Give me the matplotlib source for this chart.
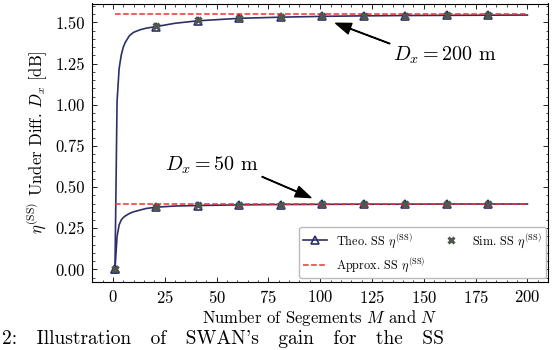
import numpy as np
import matplotlib.pyplot as plt
from matplotlib.ticker import AutoMinorLocator

plt.rcParams['font.family'] = 'serif'
plt.rcParams['font.serif'] = ['cmr10']
plt.rcParams['mathtext.fontset'] = 'cm'
plt.rcParams['axes.formatter.use_mathtext'] = True
plt.rcParams['font.size'] = 12

# theoretical curves
seg_theo = [1, 2, 3, 4, 5, 6, 8, 10, 13, 16, 21, 30, 41, 61, 81, 101, 121, 141, 161, 181, 200]
theo_200 = [0.0, 1.02, 1.22, 1.30, 1.35, 1.38, 1.42, 1.44, 1.455, 1.465, 1.475, 1.495, 1.51,
            1.525, 1.532, 1.537, 1.540, 1.542, 1.543, 1.544, 1.545]
theo_50 = [0.0, 0.20, 0.27, 0.30, 0.315, 0.325, 0.34, 0.35, 0.36, 0.37, 0.378, 0.385, 0.388,
           0.392, 0.394, 0.395, 0.396, 0.396, 0.397, 0.397, 0.397]

# sampled points (markers)
seg_pts = [1, 21, 41, 61, 81, 101, 121, 141, 161, 181]
theo_200_pts = [0.0, 1.475, 1.51, 1.525, 1.532, 1.537, 1.540, 1.542, 1.543, 1.544]
theo_50_pts = [0.0, 0.378, 0.388, 0.392, 0.394, 0.395, 0.396, 0.396, 0.397, 0.397]
sim_200 = [0.0, 1.476, 1.512, 1.527, 1.533, 1.538, 1.541, 1.542, 1.543, 1.544]
sim_50 = [0.0, 0.379, 0.389, 0.392, 0.394, 0.395, 0.396, 0.397, 0.397, 0.397]

# approximation
seg_approx = [1, 200]
approx_200 = [1.55, 1.55]
approx_50 = [0.40, 0.40]

navy = '#2c3068'
gray = '#4f574f'
red = '#f03030'

fig = plt.figure(figsize=(5.52, 3.5), dpi=100)
ax = fig.add_axes([0.167, 0.195, 0.826, 0.795])

for yt, yp, ys, ya in [(theo_200, theo_200_pts, sim_200, approx_200),
                       (theo_50, theo_50_pts, sim_50, approx_50)]:
    ax.plot(seg_theo, yt, color=navy, lw=1.2)
    ax.plot(seg_pts, yp, ls='none', marker='^', ms=6, mfc='none', mec=navy, mew=1.2)
    ax.plot(seg_approx, ya, color=red, ls='--', lw=1.1)
    ax.plot(seg_pts, ys, ls='none', marker='x', ms=5, color=gray, mew=2.2)

h_theo, = ax.plot([], [], color=navy, lw=1.2, marker='^', ms=6, mfc='none', mew=1.2)
h_approx, = ax.plot([], [], color=red, ls='--', lw=1.1)
h_sim, = ax.plot([], [], ls='none', marker='x', ms=5, color=gray, mew=2.2)
leg = ax.legend([h_theo, h_approx, h_sim],
                [r'Theo. SS $\eta^{\rm (SS)}$', r'Approx. SS $\eta^{\rm (SS)}$',
                 r'Sim. SS $\eta^{\rm (SS)}$'],
                ncol=2, loc='lower right', fontsize=8.8, frameon=True, fancybox=True,
                edgecolor='#bbbbbb', framealpha=1, columnspacing=1.1,
                handlelength=1.9, borderpad=0.35, labelspacing=0.45,
                bbox_to_anchor=(0.996, 0.012), borderaxespad=0.0)

ax.annotate(r'$D_x = 200$ m', xy=(107.5, 1.495), xytext=(160, 1.30),
            ha='center', va='center', fontsize=14.5,
            arrowprops=dict(facecolor='black', edgecolor='black', width=0.4,
                            headwidth=8, headlength=11, shrink=0.0))
ax.annotate(r'$D_x = 50$ m', xy=(95.5, 0.436), xytext=(48, 0.635),
            ha='center', va='center', fontsize=14.5,
            arrowprops=dict(facecolor='black', edgecolor='black', width=0.4,
                            headwidth=8, headlength=11, shrink=0.0))

ax.set_xlim(-10, 210)
ax.set_ylim(-0.075, 1.615)
ax.set_xticks(np.arange(0, 201, 25))
ax.set_yticks([0.0, 0.25, 0.5, 0.75, 1.0, 1.25, 1.5])
ax.set_yticklabels(['0.00', '0.25', '0.50', '0.75', '1.00', '1.25', '1.50'])
ax.xaxis.set_minor_locator(AutoMinorLocator(5))
ax.yaxis.set_minor_locator(AutoMinorLocator(5))
ax.tick_params(which='both', direction='in', top=True, right=True)
ax.tick_params(which='major', length=3.5, width=0.6, pad=5)
ax.tick_params(which='minor', length=1.8, width=0.5)
for s in ax.spines.values():
    s.set_linewidth(0.8)

ax.set_xlabel(r'Number of Segements $M$ and $N$', labelpad=2)
ax.set_ylabel(r'$\eta^{\rm (SS)}$ Under Diff. $D_x$ [dB]', labelpad=5)

fig.text(0.004, 0.006, "2:   Illustration   of   SWAN's   gain   for   the   SS",
         fontsize=14, va='bottom', ha='left')

fig.savefig('out.png', dpi=100)
